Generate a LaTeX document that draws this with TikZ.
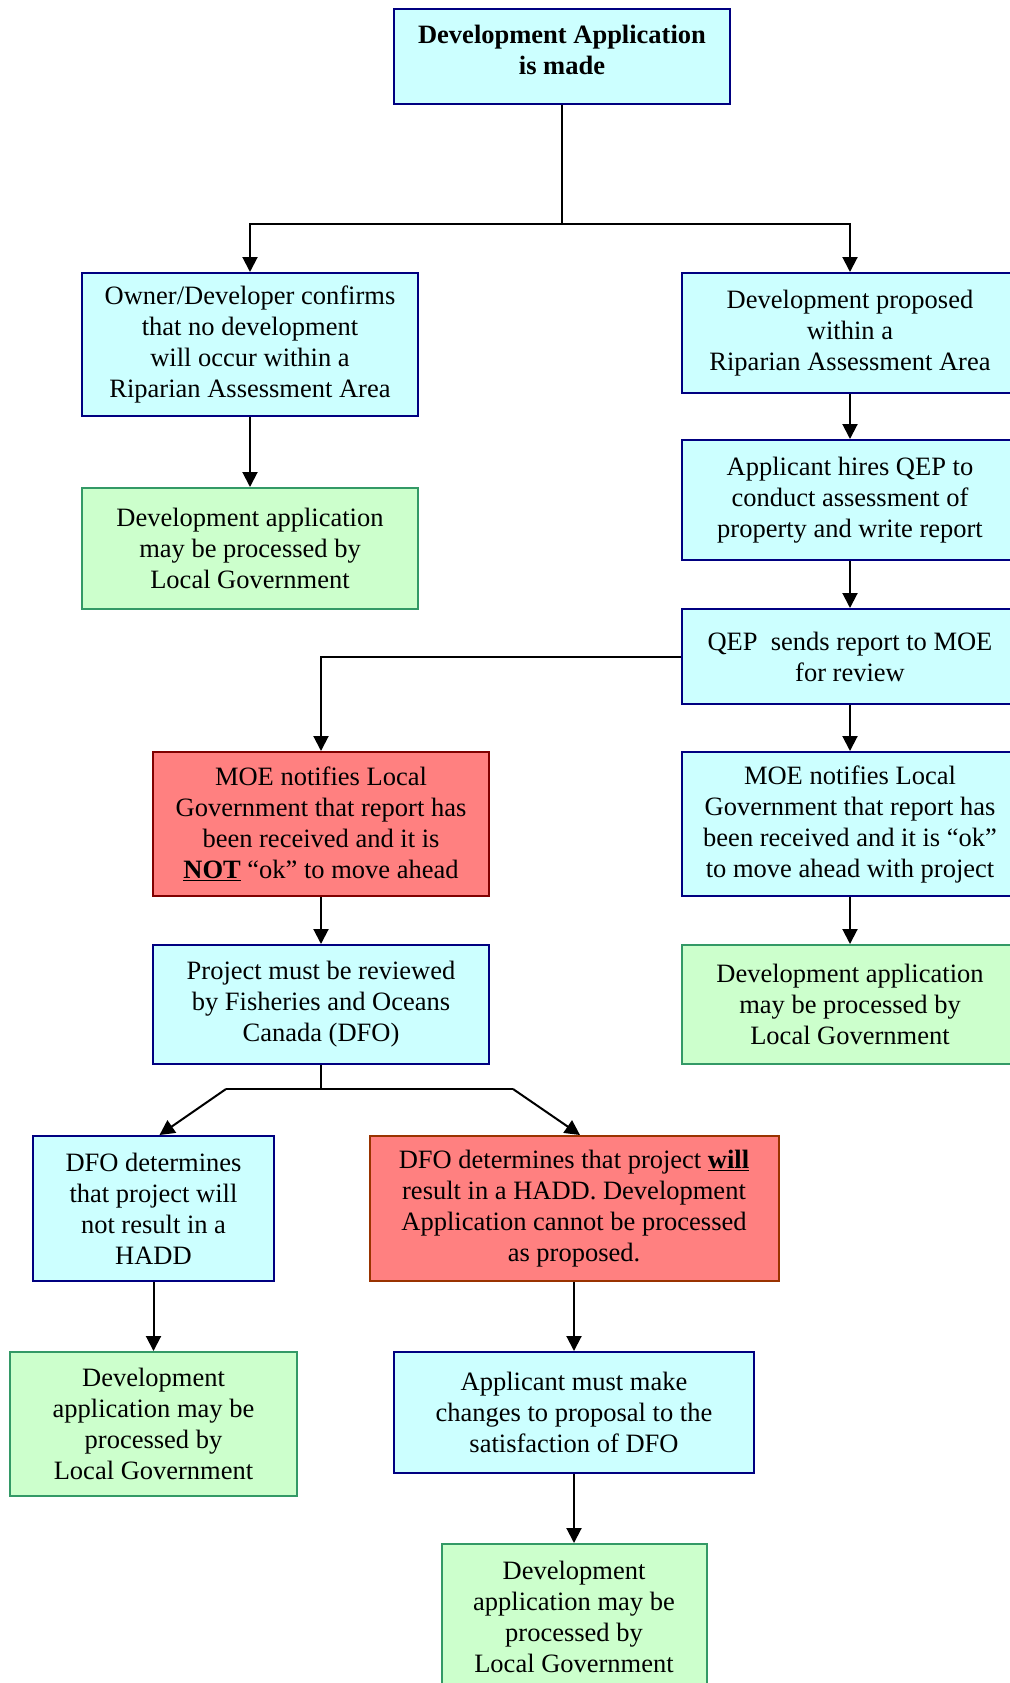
\documentclass[tikz,border=0pt]{standalone}
\usepackage{fontspec}
\setmainfont{Liberation Serif}
\usetikzlibrary{arrows.meta}
\definecolor{boxcyan}{HTML}{CCFFFF}
\definecolor{boxnavy}{HTML}{000080}
\definecolor{boxred}{HTML}{FF8080}
\definecolor{boxmaroon}{HTML}{800000}
\definecolor{boxrust}{HTML}{993300}
\definecolor{boxgreen}{HTML}{CCFFCC}
\definecolor{boxsea}{HTML}{339966}
\tikzset{
  stepbase/.style={draw, line width=2pt, align=center, inner sep=4pt,
    font=\fontsize{26.5}{31}\selectfont},
  bluebox/.style={stepbase, fill=boxcyan, draw=boxnavy},
  redbox/.style={stepbase, fill=boxred, draw=boxmaroon},
  greenbox/.style={stepbase, fill=boxgreen, draw=boxsea},
  flow/.style={line width=2pt, -{Triangle[length=15pt,width=15pt]}},
  link/.style={line width=2pt}
}
\begin{document}
\begin{tikzpicture}[x=1pt, y=1pt]
\useasboundingbox (0,0) rectangle (1009,-1683);
% top
\node [bluebox, minimum width=336pt, minimum height=95pt] (app) at (562,-56.5)
  {\textbf{Development Application}\\\textbf{is made}\\[-18pt]};
% left branch
\node [bluebox, minimum width=336pt, minimum height=143pt] (owner) at (250,-344.5)
  {Owner/Developer confirms\\that no development\\will occur within a\\Riparian Assessment Area};
\node [greenbox, minimum width=336pt, minimum height=121pt] (lgleft) at (250,-548.5)
  {Development application\\may be processed by\\Local Government};
% right branch
\node [bluebox, minimum width=336pt, minimum height=120pt] (inside) at (850,-333)
  {Development proposed\\within a\\Riparian Assessment Area};
\node [bluebox, minimum width=336pt, minimum height=120pt] (hires) at (850,-500)
  {Applicant hires QEP to\\conduct assessment of\\property and write report};
\node [bluebox, minimum width=336pt, minimum height=95pt] (qep) at (850,-656.5)
  {QEP\ \ sends report to MOE\\for review};
\node [bluebox, minimum width=336pt, minimum height=144pt] (moeok) at (850,-824)
  {MOE notifies Local\\Government that report has\\been received and it is “ok”\\to move ahead with project};
\node [greenbox, minimum width=336pt, minimum height=119pt] (lgright) at (850,-1004.5)
  {Development application\\may be processed by\\Local Government};
% not ok branch
\node [redbox, minimum width=336pt, minimum height=144pt] (moenot) at (321,-824)
  {MOE notifies Local\\Government that report has\\been received and it is\\\underline{\textbf{NOT}} “ok” to move ahead};
\node [bluebox, minimum width=336pt, minimum height=119pt] (dfo) at (321,-1004.5)
  {Project must be reviewed\\by Fisheries and Oceans\\Canada (DFO)};
% DFO outcomes
\node [bluebox, minimum width=241pt, minimum height=145pt] (nohadd) at (153.5,-1208.5)
  {DFO determines\\that project will\\not result in a\\HADD};
\node [redbox, draw=boxrust, minimum width=409pt, minimum height=145pt] (hadd) at (574,-1208.5)
  {DFO determines that project \underline{\textbf{will}}\\result in a HADD. Development\\Application cannot be processed\\as proposed.};
\node [greenbox, minimum width=287pt, minimum height=144pt] (lgdfo) at (153.5,-1424)
  {Development\\application may be\\processed by\\Local Government};
\node [bluebox, minimum width=360pt, minimum height=121pt] (changes) at (574,-1412.5)
  {Applicant must make\\changes to proposal to the\\satisfaction of DFO};
\node [greenbox, minimum width=265pt, minimum height=145pt] (lgend) at (574,-1616.5)
  {Development\\application may be\\processed by\\Local Government};
% connectors
\coordinate (fork) at (562,-224);
\coordinate (split) at (321,-1089);
\coordinate (kneel) at (226,-1089);
\coordinate (kneer) at (513,-1089);
\draw [link] (app.south) -- (fork);
\draw [flow] (fork) -| (owner.north);
\draw [flow] (fork) -| (inside.north);
\draw [flow] (owner) -- (lgleft);
\draw [flow] (inside) -- (hires);
\draw [flow] (hires) -- (qep);
\draw [flow] (qep) -- (moeok);
\draw [flow] (moeok) -- (lgright);
\draw [flow] (qep.west) -| (moenot.north);
\draw [flow] (moenot) -- (dfo);
\draw [link] (dfo.south) -- (split);
\draw [link] (kneel) -- (kneer);
\draw [flow] (kneel) -- ([xshift=6pt]nohadd.north);
\draw [flow] (kneer) -- ([xshift=6pt]hadd.north);
\draw [flow] (nohadd) -- (lgdfo);
\draw [flow] (hadd) -- (changes);
\draw [flow] (changes) -- (lgend);
\end{tikzpicture}
\end{document}
